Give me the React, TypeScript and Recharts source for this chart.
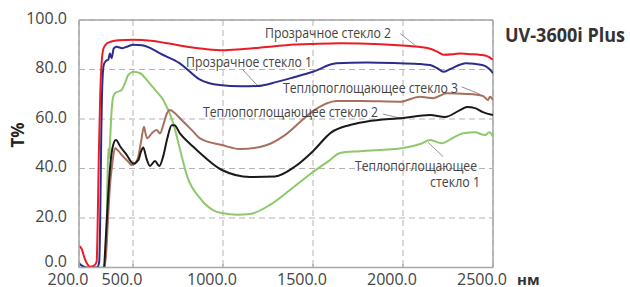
import React from 'react';
import { LineChart, Line, XAxis, YAxis, CartesianGrid, ReferenceLine } from 'recharts';

// ---- Data (wavelength nm / transmittance %) ----
const NM_RED = [200, 215, 230, 245, 261, 280, 298, 303, 310, 318, 326, 336, 354, 380, 420, 500, 600, 700, 800, 900, 1000, 1100, 1200, 1350, 1500, 1650, 1800, 1950, 2050, 2150, 2190, 2225, 2280, 2320, 2380, 2430, 2470, 2500];
const RED = [8.7, 7.5, 4, 1.5, 0.3, 0.6, 2.3, 15, 45, 70, 83, 88.5, 90.5, 91.3, 91.8, 92, 91.6, 90.5, 89.2, 88.3, 87.8, 88.2, 88.8, 89.8, 90.3, 90.6, 90.4, 89.9, 89.4, 88.4, 87.2, 86, 86.2, 86.5, 86.2, 85.9, 85.3, 84];

const NM_BLUE = [200, 215, 240, 300, 312, 318, 324, 330, 338, 350, 363, 372, 381, 393, 410, 440, 470, 500, 550, 600, 650, 760, 870, 980, 1100, 1190, 1300, 1400, 1500, 1630, 1800, 1980, 2100, 2150, 2190, 2225, 2260, 2350, 2440, 2475, 2500];
const BLUE = [1.5, 0.8, 0, 0, 2, 20, 55, 75, 82, 83.5, 84, 86.5, 84.5, 88.5, 89.2, 88.6, 89.3, 90, 89.8, 88.5, 86.5, 82.5, 76, 73.7, 73.2, 73.3, 75, 77, 79.1, 82.5, 82.8, 82.5, 82.2, 81.8, 80.5, 79.1, 80.1, 82.5, 81.8, 80.5, 78.5];

const NM_GREEN = [200, 215, 240, 340, 348, 354, 358, 363, 367, 372, 380, 390, 400, 437, 455, 474, 502, 540, 576, 620, 668, 724, 760, 800, 872, 944, 994, 1080, 1150, 1261, 1372, 1500, 1594, 1650, 1761, 2000, 2100, 2150, 2215, 2280, 2335, 2400, 2456, 2480, 2500];
const GREEN = [2, 1, 0, 0, 6, 18, 35, 48, 44, 50, 62, 69, 70.4, 71.7, 74.4, 77.8, 79.1, 78.5, 75.8, 72, 67.7, 58.3, 48, 37, 28, 23.2, 22, 21.3, 21.6, 25.3, 31.3, 38.6, 43.4, 46.3, 47, 48.3, 50, 51.5, 50.2, 52.5, 54.2, 54.6, 53.5, 54.6, 52.8];

const NM_BROWN = [340, 350, 360, 372, 385, 400, 420, 437, 474, 493, 511, 530, 545, 561, 570, 580, 604, 631, 650, 670, 690, 706, 730, 761, 835, 872, 994, 1094, 1206, 1344, 1428, 1500, 1633, 1761, 1983, 2094, 2167, 2244, 2356, 2444, 2472, 2483, 2500];
const BROWN = [0, 5, 18, 33, 42, 48.2, 47, 45.5, 42.7, 41.4, 42, 45, 51, 56.9, 54, 52.2, 54.2, 55.6, 54.2, 58, 62.5, 63.6, 62.5, 60.3, 54.9, 52.2, 49.5, 47.9, 48.7, 53.5, 58.8, 63.2, 67.3, 67.3, 67, 69, 68.4, 70.4, 70.1, 69.3, 67.7, 69, 67.7];

const NM_BLACK = [340, 355, 370, 385, 405, 430, 465, 502, 530, 545, 557, 575, 594, 622, 646, 668, 690, 715, 730, 761, 835, 872, 994, 1150, 1289, 1400, 1500, 1600, 1700, 1800, 2000, 2150, 2233, 2317, 2356, 2400, 2444, 2500];
const BLACK = [0, 20, 38, 48, 51.5, 48.8, 45.5, 42, 43.5, 47, 48.5, 44, 41, 43, 41, 45, 52, 57.5, 57.5, 54.2, 48.8, 46.3, 39.4, 36.6, 36.8, 40.8, 47, 54.5, 57.5, 59, 60.4, 61.6, 60.8, 63.6, 64.8, 64.4, 62.8, 61.6];

const X_TICKS = [200, 500, 1000, 1500, 2000, 2500];
const Y_TICKS = [0, 20, 40, 60, 80, 100];

const SERIES_NAMES = ['Прозрачное стекло 2', 'Прозрачное стекло 1', 'Теплопоглощающее стекло 3', 'Теплопоглощающее стекло 2', 'Теплопоглощающее', 'стекло 1'];
const TITLE = 'UV-3600i Plus';
const Y_LABEL = 'T%';
const X_UNIT = 'нм';

const zip = (xs: number[], ys: number[]) => xs.map((nm, i) => ({ nm, v: ys[i] }));
const redData = zip(NM_RED, RED);
const blueData = zip(NM_BLUE, BLUE);
const greenData = zip(NM_GREEN, GREEN);
const brownData = zip(NM_BROWN, BROWN);
const blackData = zip(NM_BLACK, BLACK);

const FONT = '"Open Sans", "Noto Sans", sans-serif';
const TXT = '#444';
const AXIS = '#a6a6a6';

const XTick = (props: any) => {
  const { x, y, payload } = props;
  return (
    <g>
      <line x1={x} x2={x} y1={y - 3.5} y2={y} stroke={AXIS} strokeWidth={1.2} />
      <text x={x - 11} y={y + 17.5} textAnchor="middle" fontSize={16} fontFamily={FONT} fill={TXT}>
        {Number(payload.value).toFixed(1)}
      </text>
    </g>
  );
};

const YTick = (props: any) => {
  const { x, y, payload } = props;
  const off = payload.value === 0 ? -6 : -2;
  return (
    <text x={x - 12} y={y + off + 5.7} textAnchor="end" fontSize={16} fontFamily={FONT} fill={TXT}>
      {Number(payload.value).toFixed(1)}
    </text>
  );
};

const leader = { stroke: '#777', strokeWidth: 0.8 };

const Ann = ({ x, y, w, anchor, children }: any) => (
  <text x={x} y={y} textAnchor={anchor || 'start'} fontSize={14} fontFamily={FONT} fill={TXT} textLength={w} lengthAdjust="spacingAndGlyphs">
    {children}
  </text>
);

export default function App() {
  return (
    <div style={{ position: 'absolute', left: 0, top: 0, width: 630, height: 287, background: '#fff' }}>
      <LineChart width={630} height={287} margin={{ top: 20, right: 137, bottom: 0, left: 0 }}>
        <CartesianGrid stroke="#b3b3b3" strokeDasharray="6 4" strokeWidth={1} />
        <XAxis
          dataKey="nm"
          type="number"
          domain={[200, 2500]}
          ticks={X_TICKS}
          height={19.5}
          tickSize={0}
          tickMargin={0}
          tickLine={false}
          tick={(p: any) => <XTick {...p} />}
          axisLine={{ stroke: AXIS, strokeWidth: 1.5 }}
          allowDataOverflow
          interval={0}
        />
        <YAxis
          type="number"
          domain={[0, 100]}
          ticks={Y_TICKS}
          width={79}
          tickSize={0}
          tickMargin={0}
          tickLine={false}
          tick={(p: any) => <YTick {...p} />}
          axisLine={{ stroke: AXIS, strokeWidth: 1.5 }}
          allowDataOverflow
          interval={0}
        />
        <ReferenceLine y={100} stroke={AXIS} strokeWidth={1.5} />
        <ReferenceLine x={2500} stroke={AXIS} strokeWidth={1.5} />
        <ReferenceLine segment={[{ x: 1985, y: 94.5 }, { x: 2070, y: 89.6 }]} {...leader} />
        <ReferenceLine segment={[{ x: 1111, y: 79.8 }, { x: 1194, y: 73.3 }]} {...leader} />
        <ReferenceLine segment={[{ x: 2326, y: 73 }, { x: 2428, y: 70 }]} {...leader} />
        <ReferenceLine segment={[{ x: 1889, y: 62 }, { x: 1993, y: 60.2 }]} {...leader} />
        <ReferenceLine segment={[{ x: 2222, y: 44.8 }, { x: 2139, y: 50.6 }]} {...leader} />
        <Line data={greenData} dataKey="v" type="monotone" stroke="#8dc86a" strokeWidth={2} dot={false} isAnimationActive={false} />
        <Line data={brownData} dataKey="v" type="monotone" stroke="#a86e5e" strokeWidth={2} dot={false} isAnimationActive={false} />
        <Line data={blackData} dataKey="v" type="monotone" stroke="#1a1a1a" strokeWidth={2} dot={false} isAnimationActive={false} />
        <Line data={blueData} dataKey="v" type="monotone" stroke="#2b2d8e" strokeWidth={2} dot={false} isAnimationActive={false} />
        <Line data={redData} dataKey="v" type="monotone" stroke="#ec1c24" strokeWidth={2} dot={false} isAnimationActive={false} />
      </LineChart>
      <svg width={630} height={287} style={{ position: 'absolute', left: 0, top: 0, pointerEvents: 'none' }}>
        <text x={505} y={42} fontSize={20} fontWeight="bold" fontFamily={FONT} fill="#333" textLength={120} lengthAdjust="spacingAndGlyphs">{TITLE}</text>
        <text x={0} y={0} transform="translate(24,135) rotate(-90)" textAnchor="middle" fontSize={17} fontWeight="bold" fontFamily={FONT} fill="#222">{Y_LABEL}</text>
        <text x={517} y={284.5} fontSize={15} fontWeight="bold" fontFamily={FONT} fill="#333">{X_UNIT}</text>
        <Ann x={265} y={38} w={126}>{SERIES_NAMES[0]}</Ann>
        <Ann x={186} y={67} w={126}>{SERIES_NAMES[1]}</Ann>
        <Ann x={283} y={93} w={175}>{SERIES_NAMES[2]}</Ann>
        <Ann x={203} y={117} w={175}>{SERIES_NAMES[3]}</Ann>
        <Ann x={355} y={170.5} w={122}>{SERIES_NAMES[4]}</Ann>
        <Ann x={430} y={187} w={50}>{SERIES_NAMES[5]}</Ann>
      </svg>
    </div>
  );
}
